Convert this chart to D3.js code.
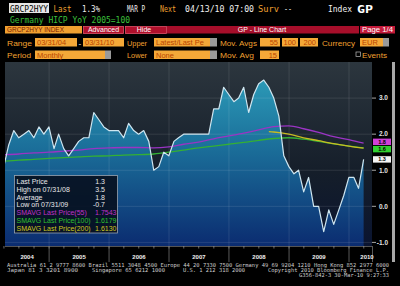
<!DOCTYPE html>
<html>
<head>
<meta charset="utf-8">
<script src="https://cdn.jsdelivr.net/npm/d3@7"></script>
<style>
  html, body { margin: 0; padding: 0; background: #000; }
  svg { display: block; }
  text { font-family: "Liberation Sans", Arial, sans-serif; }
  .mono { font-family: "DejaVu Sans Mono", monospace; }
</style>
</head>
<body>
<svg id="chart" width="400" height="286"></svg>
<script>
// Germany HICP YoY, monthly, Mar 2004 .. Mar 2010
var hicp = [1.1, 1.7, 2.1, 1.9, 2.0, 2.1, 1.9, 2.2, 2.0, 2.2,
  1.6, 2.0, 1.6, 1.4, 1.6, 1.8, 1.9, 1.9, 2.6, 2.4, 2.2, 2.1,
  2.1, 2.1, 1.9, 2.3, 2.1, 2.0, 2.1, 1.8, 1.0, 1.1, 1.5, 1.4,
  1.8, 1.9, 2.0, 2.0, 2.0, 2.0, 2.0, 2.0, 2.7, 2.7, 3.3, 3.1,
  2.9, 3.0, 3.3, 2.6, 3.1, 3.4, 3.5, 3.3, 3.0, 2.5, 1.4, 1.1,
  0.9, 1.0, 0.4, 0.8, 0.0, 0.0, -0.7, -0.1, -0.5, -0.1, 0.3, 0.8,
  0.8, 0.5, 1.3];

// moving averages (month index into hicp)
var maIndex = [0, 3, 6, 9, 12, 15, 18, 21, 24, 27, 30, 33, 36, 39, 42, 45, 48, 51, 54, 57, 60, 63, 66, 69, 72];
var sma55 = [1.43, 1.45, 1.48, 1.50, 1.53, 1.56, 1.60, 1.62, 1.63, 1.63, 1.62, 1.65, 1.72, 1.78, 1.87, 1.95, 2.03, 2.12, 2.21, 2.23, 2.15, 2.05, 1.93, 1.85, 1.75];
var sma100 = [1.25, 1.28, 1.30, 1.33, 1.35, 1.37, 1.39, 1.40, 1.42, 1.43, 1.45, 1.50, 1.56, 1.62, 1.67, 1.72, 1.77, 1.83, 1.88, 1.90, 1.86, 1.80, 1.73, 1.67, 1.62];
var sma200Index = [53, 54, 57, 60, 63, 66, 69, 72];
var sma200 = [2.07, 2.06, 2.00, 1.90, 1.82, 1.74, 1.67, 1.61];

var yTicks = [3.0, 2.0, 1.0, 0.0, -1.0];
var years = [2004, 2005, 2006, 2007, 2008, 2009, 2010];

var statLabels = ["Last Price", "High on 07/31/08", "Average", "Low on 07/31/09",
  "SMAVG Last Price(55)", "SMAVG Last Price(100)", "SMAVG Last Price(200)"];
var statValues = ["1.3", "3.5", "1.8", "-0.7", "1.7543", "1.6179", "1.6130"];
var statColors = ["#e8e8e8", "#e8e8e8", "#e8e8e8", "#e8e8e8", "#c030c8", "#30c030", "#d0c820"];

var tagValues = [1.7543, 1.6179, 1.3];
var tagTexts = ["1.8", "1.6", "1.3"];
var tagColors = ["#d040d8", "#30d030", "#f4f4f4"];
var tagShift = [-1.2, 1.2, 0];

var months = d3.timeMonth.range(new Date(2004, 3, 1), new Date(2010, 4, 1))
  .map(function (d) { return d3.timeDay.offset(d, -1); });

var plot = { left: 5, right: 372, top: 62, bottom: 246 };
var orange = "#f0a030";

var svg = d3.select("#chart");
var defs = svg.append("defs");

function label(g, x0, y0, s, fill, size, width, cls) {
  var t = g.append("text").attr("x", x0).attr("y", y0)
    .attr("fill", fill).attr("font-size", size).text(s);
  if (width) t.attr("textLength", width).attr("lengthAdjust", "spacingAndGlyphs");
  if (cls) t.attr("class", cls);
  return t;
}

// ---- header ----
var head = svg.append("g");
head.append("rect").attr("x", 9).attr("y", 3).attr("width", 40).attr("height", 10).attr("fill", "#e6e6e6");
label(head, 10, 12, "GRCP2HYY", "#000", 8.5, 38, "mono");
label(head, 53.5, 12, "Last", orange, 8.5, 18, "mono");
label(head, 82, 12, "1.3%", "#f0f0f0", 8.5, 18, "mono");
label(head, 127, 12, "MAR P", "#f0f0f0", 8.5, 18, "mono");
label(head, 160, 12, "Next", orange, 8.5, 16, "mono");
label(head, 185, 12, "04/13/10 07:00", "#f0f0f0", 8.5, 69, "mono");
label(head, 258, 12, "Surv", orange, 8.5, 21, "mono");
label(head, 284, 12, "--", "#f0f0f0", 8.5, 8, "mono");
label(head, 328, 12, "Index", "#f0f0f0", 8.5, 24, "mono");
label(head, 357, 12.5, "GP", "#fff", 10, 16, "mono").attr("font-weight", "bold");
label(head, 10, 22.5, "Germany HICP YoY 2005=100", "#3cc03c", 8.5, 120, "mono");

// tab row
head.append("rect").attr("x", 5).attr("y", 26).attr("width", 77).attr("height", 7.5).attr("fill", orange);
label(head, 7, 32, "GRCP2HYY INDEX", "#7a1a00", 7, 57);
head.append("rect").attr("x", 83.5).attr("y", 26.5).attr("width", 40).attr("height", 7)
  .attr("fill", "#b0102c").attr("stroke", "#e05068").attr("stroke-width", 0.8);
label(head, 103.5, 32, "Advanced", "#fff", 7).attr("text-anchor", "middle");
head.append("rect").attr("x", 125.5).attr("y", 26.5).attr("width", 41).attr("height", 7)
  .attr("fill", "#b0102c").attr("stroke", "#e05068").attr("stroke-width", 0.8);
label(head, 144, 32, "Hide", "#fff", 7).attr("text-anchor", "middle");
head.append("rect").attr("x", 167).attr("y", 26).attr("width", 192).attr("height", 7.5).attr("fill", "#a60e2a");
label(head, 262, 32, "GP - Line Chart", "#fff", 7).attr("text-anchor", "middle");
head.append("rect").attr("x", 360).attr("y", 26).attr("width", 35).attr("height", 7.5).attr("fill", "#c41a3a");
label(head, 362, 32, "Page 1/4", "#fff", 7, 31);

// option rows
var boxes = [
  [35, 38, 42, "03/31/04", "start"], [83, 38, 41, "03/31/10", "start"],
  [154, 38, 56, "Latest/Last Pe", "start"], [260, 38, 20, "55", "end"],
  [282, 38, 16, "100", "end"], [300, 38, 18, "200", "end"], [360, 38, 23, "EUR", "start"],
  [35, 50.5, 70, "Monthly", "start"], [154, 50.5, 56, "None", "start"], [260, 50.5, 19, "15", "end"]
];
boxes.forEach(function (b) {
  head.append("rect").attr("x", b[0]).attr("y", b[1]).attr("width", b[2]).attr("height", 8.5).attr("fill", "#f4a838");
  label(head, b[4] === "end" ? b[0] + b[2] - 2 : b[0] + 2, b[1] + 7.3, b[3], "#b84400", 7.5)
    .attr("text-anchor", b[4]);
});
[[210, 38, 7], [383, 38, 6], [105, 50.5, 6], [210, 50.5, 7]].forEach(function (b) {
  head.append("rect").attr("x", b[0]).attr("y", b[1]).attr("width", b[2]).attr("height", 8.5).attr("fill", "#9a9a9a");
});
label(head, 7, 45.5, "Range", orange, 8, 25);
label(head, 78.5, 45.5, "-", "#fff", 8);
label(head, 127, 45.5, "Upper", orange, 8, 20);
label(head, 220, 45.5, "Mov. Avgs", orange, 8, 37);
label(head, 322, 45.5, "Currency", orange, 8, 33);
label(head, 7, 58, "Period", orange, 8, 24);
label(head, 127, 58, "Lower", orange, 8, 20);
label(head, 220, 58, "Mov. Avg", orange, 8, 34);
head.append("rect").attr("x", 356).attr("y", 52).attr("width", 4.5).attr("height", 4.5)
  .attr("fill", "none").attr("stroke", "#bbb").attr("stroke-width", 0.7);
label(head, 362, 58, "Events", orange, 8, 25);

// ---- scales ----
var x = d3.scaleTime().domain([new Date(2004, 0, 1), new Date(2010, 0, 1)]).range([-11, 349]);
var y = d3.scaleLinear().domain([-1.1, 4.0]).range([plot.bottom, plot.top]);

// ---- plot background ----
var bg = defs.append("linearGradient").attr("id", "bg").attr("gradientUnits", "userSpaceOnUse")
  .attr("x1", 0).attr("x2", 0).attr("y1", plot.top).attr("y2", plot.bottom);
bg.append("stop").attr("offset", 0).attr("stop-color", "#2c363e");
bg.append("stop").attr("offset", 0.6).attr("stop-color", "#151e2a");
bg.append("stop").attr("offset", 1).attr("stop-color", "#0a1430");

var fillGrad = defs.append("linearGradient").attr("id", "fillGrad").attr("gradientUnits", "userSpaceOnUse")
  .attr("x1", 0).attr("x2", 0).attr("y1", 75).attr("y2", plot.bottom);
fillGrad.append("stop").attr("offset", 0).attr("stop-color", "#2c9cb8");
fillGrad.append("stop").attr("offset", 0.45).attr("stop-color", "#1a6c98");
fillGrad.append("stop").attr("offset", 1).attr("stop-color", "#0b2c70");

defs.append("clipPath").attr("id", "plotClip").append("rect")
  .attr("x", plot.left).attr("y", plot.top)
  .attr("width", plot.right - plot.left).attr("height", plot.bottom - plot.top);

svg.append("rect").attr("x", plot.left).attr("y", plot.top)
  .attr("width", plot.right - plot.left).attr("height", plot.bottom - plot.top)
  .attr("fill", "url(#bg)");

var pg = svg.append("g").attr("clip-path", "url(#plotClip)");

var series = hicp.map(function (v, i) { return { date: months[i], v: v }; });

pg.append("path").datum(series)
  .attr("fill", "url(#fillGrad)")
  .attr("d", d3.area().x(function (d) { return x(d.date); })
    .y0(plot.bottom).y1(function (d) { return y(d.v); }));

// grid
var yearStarts = years.slice(1).map(function (yr) { return new Date(yr, 0, 1); });
pg.selectAll("line.vg").data(yearStarts).enter().append("line")
  .attr("x1", function (d) { return x(d); }).attr("x2", function (d) { return x(d); })
  .attr("y1", plot.top).attr("y2", plot.bottom)
  .attr("stroke", "#ffffff").attr("stroke-opacity", 0.13).attr("stroke-width", 0.8);
pg.selectAll("line.hg").data(yTicks).enter().append("line")
  .attr("x1", plot.left).attr("x2", plot.right)
  .attr("y1", function (d) { return y(d); }).attr("y2", function (d) { return y(d); })
  .attr("stroke", "#ffffff").attr("stroke-opacity", 0.13).attr("stroke-width", 0.8);

// moving averages
function maLine(idx, vals, color) {
  var pts = idx.map(function (k, i) { return { date: months[k], v: vals[i] }; });
  pg.append("path").datum(pts)
    .attr("fill", "none").attr("stroke", color).attr("stroke-width", 1.3)
    .attr("d", d3.line().curve(d3.curveMonotoneX)
      .x(function (d) { return x(d.date); }).y(function (d) { return y(d.v); }));
}
maLine(maIndex, sma55, "#9a34c4");
maLine(maIndex, sma100, "#34b034");
maLine(sma200Index, sma200, "#c8bc22");

pg.append("path").datum(series)
  .attr("fill", "none").attr("stroke", "#cfe6f0").attr("stroke-width", 1.2)
  .attr("stroke-linejoin", "round")
  .attr("d", d3.line().x(function (d) { return x(d.date); }).y(function (d) { return y(d.v); }));

// ---- right axis ----
var ra = svg.append("g");
ra.selectAll("line").data(yTicks).enter().append("line")
  .attr("x1", plot.right).attr("x2", plot.right + 4)
  .attr("y1", function (d) { return y(d); }).attr("y2", function (d) { return y(d); })
  .attr("stroke", "#d0d0d0").attr("stroke-width", 0.8);
ra.selectAll("text").data(yTicks).enter().append("text")
  .attr("x", 388).attr("y", function (d) { return y(d) + 2.3; })
  .attr("text-anchor", "end").attr("fill", "#e0e0e0")
  .attr("font-size", 6.5).attr("font-weight", "bold")
  .text(function (d) { return d3.format(".1f")(d).replace("−", "-"); });
svg.append("rect").attr("x", 392).attr("y", 62).attr("width", 3).attr("height", 200).attr("fill", "#a8a8a8");

tagValues.forEach(function (v, i) {
  var cy = y(v) + tagShift[i];
  ra.append("rect").attr("x", 373).attr("y", cy - 3.2).attr("width", 18).attr("height", 6.4).attr("fill", tagColors[i]);
  ra.append("text").attr("x", 382).attr("y", cy + 2).attr("text-anchor", "middle")
    .attr("fill", "#000").attr("font-size", 5.5).attr("font-weight", "bold").text(tagTexts[i]);
});

// ---- x axis band ----
var xa = svg.append("g");
xa.append("line").attr("x1", plot.left).attr("x2", plot.right).attr("y1", 246.5).attr("y2", 246.5)
  .attr("stroke", "#6a6a6a").attr("stroke-width", 0.8);
var quarters = d3.timeMonth.every(3).range(new Date(2004, 3, 1), new Date(2010, 3, 2));
xa.selectAll("line.q").data(quarters).enter().append("line")
  .attr("x1", function (d) { return x(d); }).attr("x2", function (d) { return x(d); })
  .attr("y1", 246).attr("y2", 248.5).attr("stroke", "#9a9a9a").attr("stroke-width", 0.7);
xa.selectAll("line.ys").data(yearStarts.concat([null])).enter().append("line")
  .attr("x1", function (d) { return d ? x(d) : plot.right + 0.5; })
  .attr("x2", function (d) { return d ? x(d) : plot.right + 0.5; })
  .attr("y1", 246).attr("y2", 262).attr("stroke", "#707070").attr("stroke-width", 0.8);
xa.selectAll("text").data(years).enter().append("text")
  .attr("x", function (yr) {
    var a = Math.max(x(new Date(yr, 0, 1)), plot.left);
    var b = Math.min(x(new Date(yr + 1, 0, 1)), 385);
    return (a + b) / 2;
  })
  .attr("y", 259).attr("text-anchor", "middle").attr("fill", "#f0f0f0")
  .attr("font-size", 6).attr("font-weight", "bold").text(function (d) { return d; });

// ---- stats box ----
var sb = svg.append("g");
sb.append("rect").attr("x", 14.5).attr("y", 175.5).attr("width", 103).attr("height", 57.5)
  .attr("fill", "#07101e").attr("fill-opacity", 0.9).attr("stroke", "#9aa4b0").attr("stroke-width", 0.8);
statLabels.forEach(function (s, i) {
  var by = 184.3 + i * 7.7;
  sb.append("text").attr("x", 16.5).attr("y", by).attr("fill", statColors[i])
    .attr("font-size", 7).text(s);
  sb.append("text").attr("x", i < 4 ? 105 : 116.5).attr("y", by).attr("text-anchor", "end")
    .attr("fill", statColors[i]).attr("font-size", 7).text(statValues[i]);
});

// ---- footer ----
var ft = svg.append("g");
label(ft, 7, 266.5, "Australia 61 2 9777 8600 Brazil 5511 3048 4500 Europe 44 20 7330 7500 Germany 49 69 9204 1210 Hong Kong 852 2977 6000", "#cccccc", 5.5, 382, "mono");
label(ft, 7, 271.5, "Japan 81 3 3201 8900", "#cccccc", 5.5, 71, "mono");
label(ft, 92, 271.5, "Singapore 65 6212 1000", "#cccccc", 5.5, 73, "mono");
label(ft, 183, 271.5, "U.S. 1 212 318 2000", "#cccccc", 5.5, 62, "mono");
label(ft, 268, 271.5, "Copyright 2010 Bloomberg Finance L.P.", "#cccccc", 5.5, 121, "mono");
label(ft, 299, 276.5, "G356-842-3 30-Mar-10  9:27:33", "#cccccc", 5.5, 90, "mono");
</script>
</body>
</html>
